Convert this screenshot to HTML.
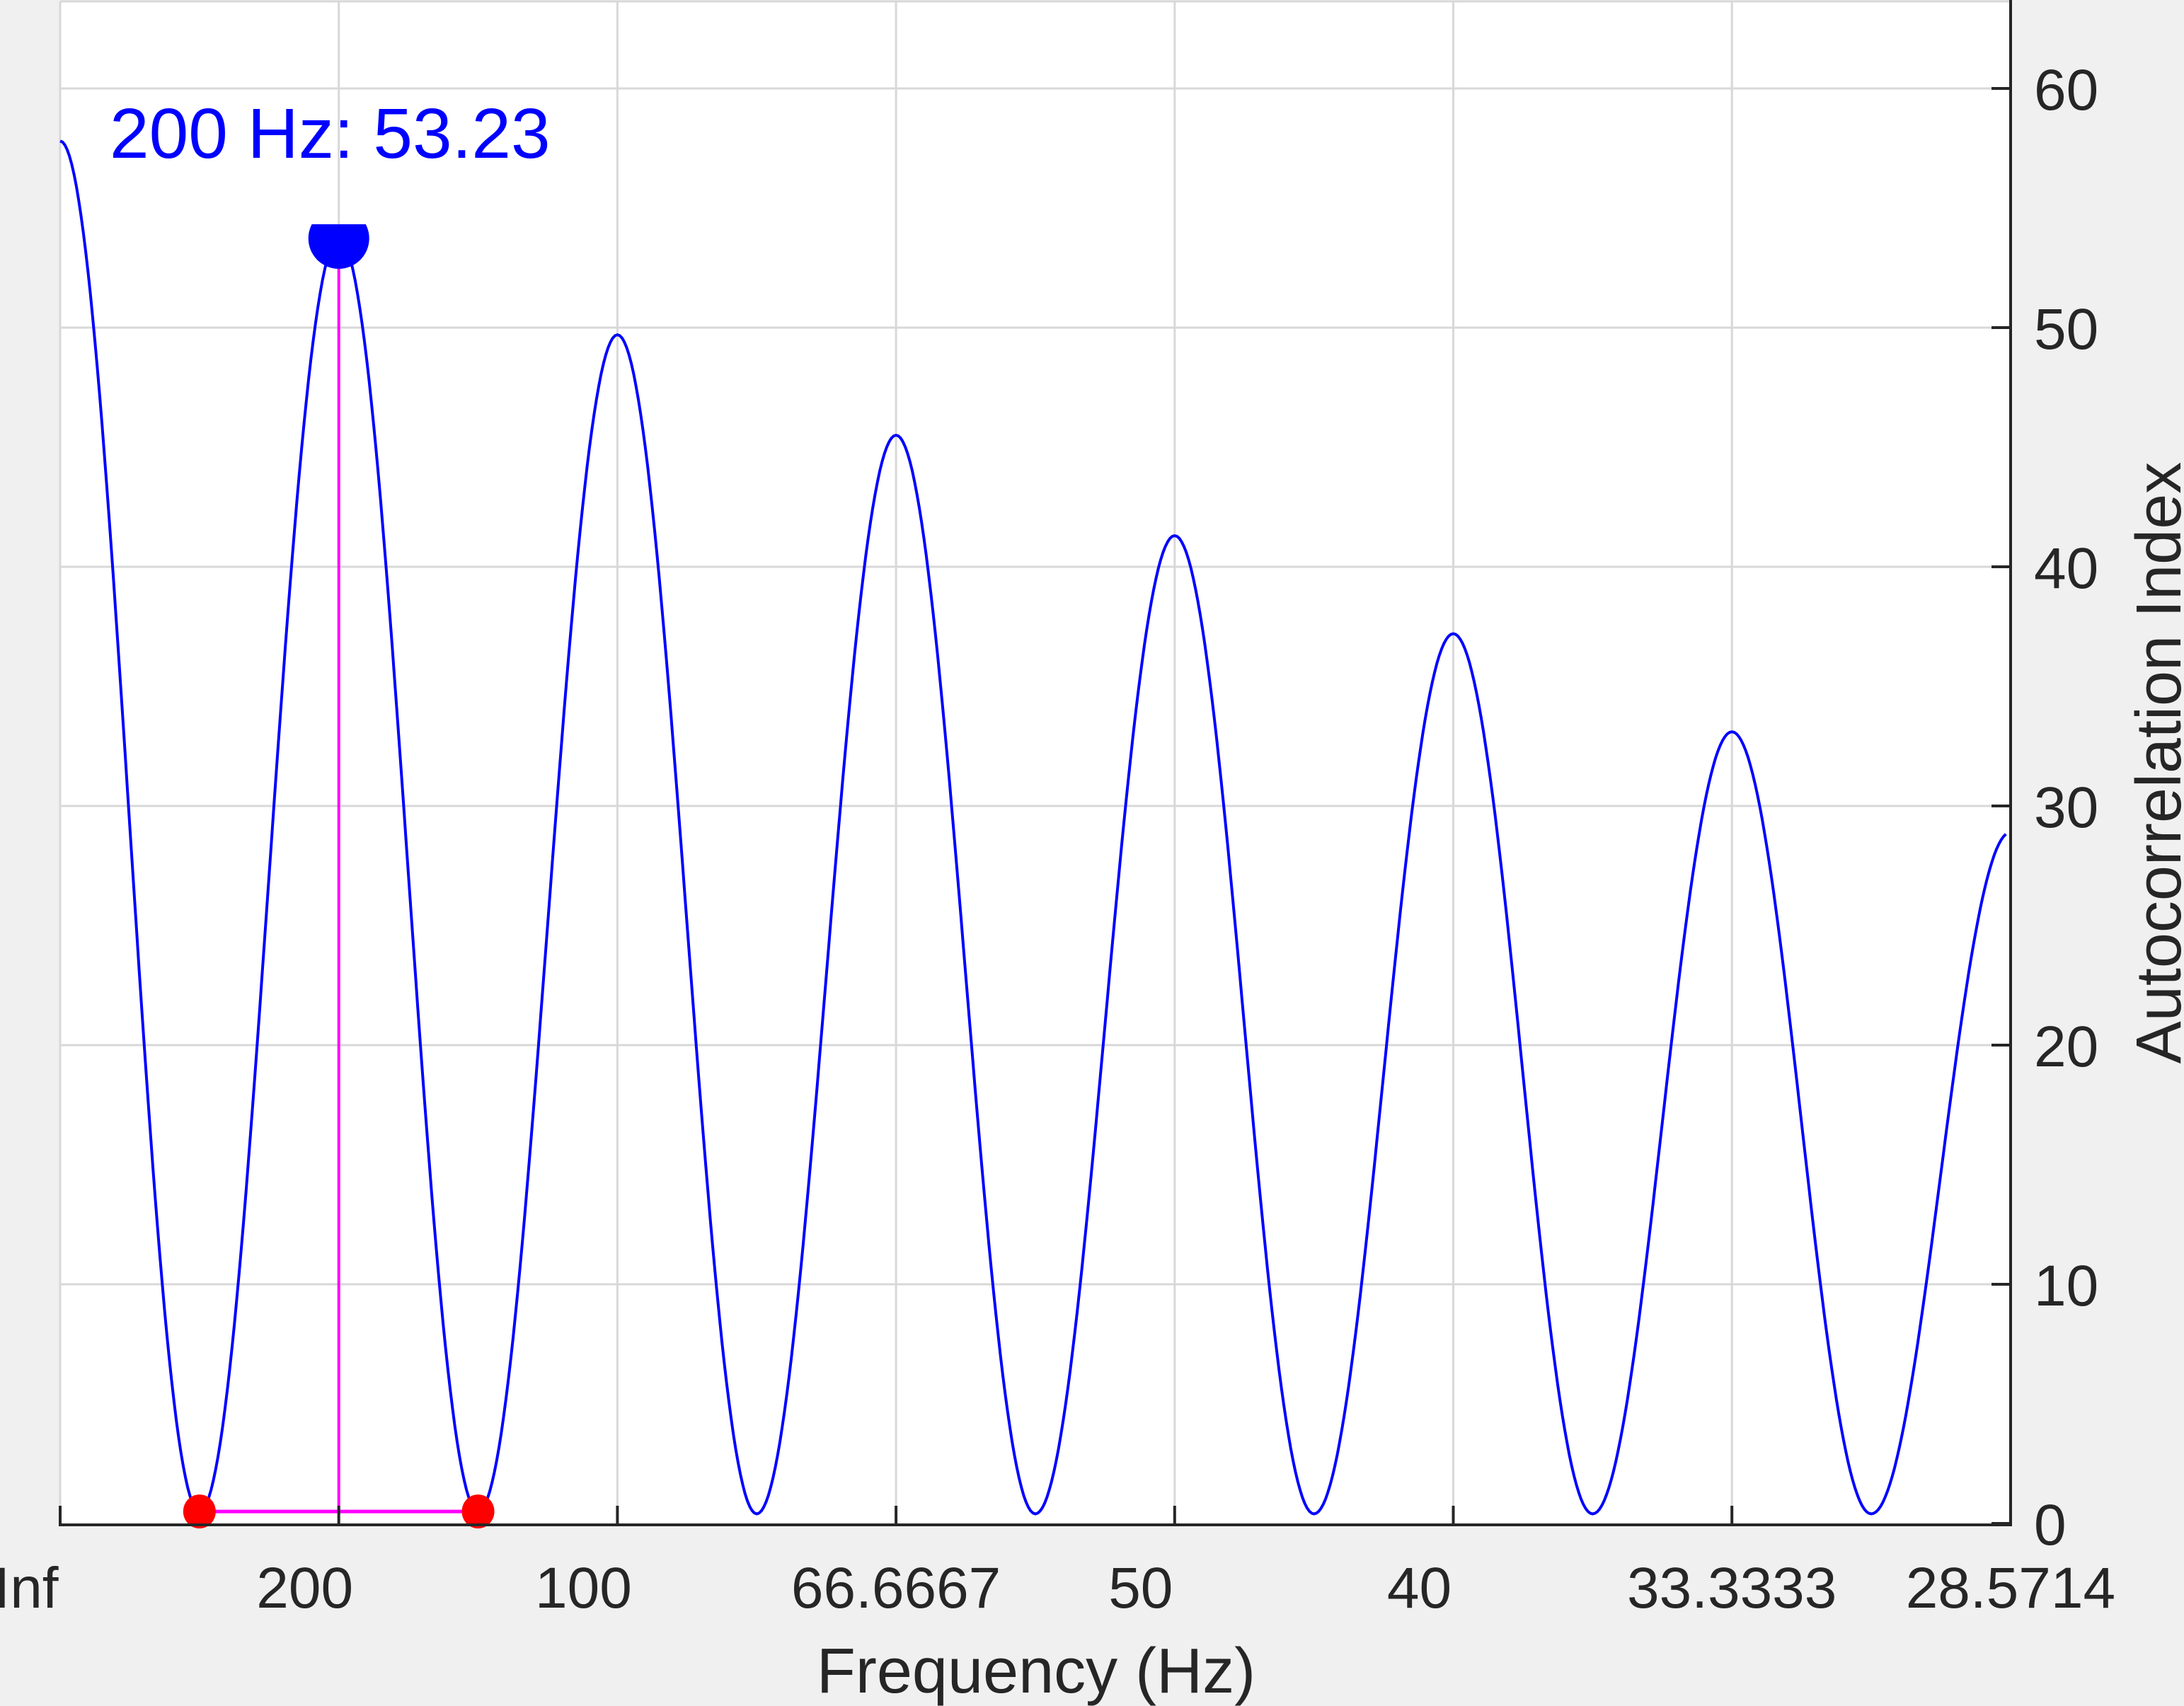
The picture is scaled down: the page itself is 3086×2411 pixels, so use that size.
<!DOCTYPE html>
<html><head><meta charset="utf-8"><style>
html,body{margin:0;padding:0;background:#f0f0f0;}
svg{display:block;font-family:"Liberation Sans",Arial,sans-serif;}
</style></head><body>
<svg id="chart" width="3086" height="2411" viewBox="0 0 3086 2411" xmlns="http://www.w3.org/2000/svg">
<rect x="0" y="0" width="3086" height="2411" fill="#f0f0f0"/>
<rect x="85" y="2" width="2756" height="2153" fill="#ffffff"/>
<g id="grid"></g>
<g id="series"></g>
<g id="axes"></g>
<text x="155" y="223" font-size="100" fill="#0000ff">200 Hz: 53.23</text>
<text x="1464" y="2392" font-size="90" fill="#262626" text-anchor="middle">Frequency (Hz)</text>
<text transform="translate(3081,1078) rotate(-90)" font-size="90" fill="#262626" text-anchor="middle">Autocorrelation Index</text>
</svg>
<script>
// data
const xTickLabels = ["Inf","200","100","66.6667","50","40","33.3333","28.5714"];
const yTicks = [0,10,20,30,40,50,60];
const peakValues = [57.8, 53.76, 49.7, 45.5, 41.3, 37.2, 33.1, 28.9];
const troughValues = [0.5, 0.5, 0.4, 0.4, 0.4, 0.4, 0.4];
const selectedPeakIndex = 1;
const troughMarkers = [0.5, 1.5];
const curveEnd = 6.99;

const NS = "http://www.w3.org/2000/svg";
const X0 = 85, X1 = 2841, Y0 = 2153, PX = 393.7, PY = 33.8;
const xs = v => X0 + v * PX;
const ys = v => Y0 - v * PY;
function mk(tag, attrs, parent){const e=document.createElementNS(NS,tag);for(const k in attrs)e.setAttribute(k,attrs[k]);parent.appendChild(e);return e;}
const grid = document.getElementById('grid'), axes = document.getElementById('axes'), series = document.getElementById('series');

// grid
xTickLabels.forEach((l,i)=>{ if(i===0||i===xTickLabels.length-1) return;
  const g = mk('line',{x1:xs(i),x2:xs(i),y1:2,y2:2155,stroke:'#d8d8d8','stroke-width':3},grid);
  
  
});
yTicks.forEach(v=>{ if(v===0) return;
  const g = mk('line',{x1:X0,x2:X1,y1:ys(v),y2:ys(v),stroke:'#d8d8d8','stroke-width':3},grid);
  
  
});
const lg = mk('line',{x1:X0,x2:X0,y1:2,y2:2155,stroke:'#d8d8d8','stroke-width':3},grid);


const tg = mk('line',{x1:X0,x2:X1,y1:2,y2:2,stroke:'#d8d8d8','stroke-width':3},grid);



// curve: extrema alternate peak/trough; raised-cosine between consecutive extrema
const ext = [];
peakValues.forEach((p,i)=>{ ext.push([i,p]); if(i<troughValues.length) ext.push([i+0.5,troughValues[i]]); });
let d = '';
for(let k=0;k<ext.length-1;k++){
  const [xa,ya]=ext[k],[xb,yb]=ext[k+1];
  for(let s=0;s<=60;s++){
    const t=s/60, x=xa+(xb-xa)*t;
    if(x>curveEnd) break;
    const y=ya+(yb-ya)*(1-Math.cos(Math.PI*t))/2;
    d += (d?'L':'M')+xs(x).toFixed(1)+','+ys(y).toFixed(1);
  }
}
const curve = mk('path',{d:d,fill:'none',stroke:'#0000ff','stroke-width':4},series);



// selected peak markers
const pk = peakValues[selectedPeakIndex], tY = ys(troughValues[0]);
const vline = mk('line',{x1:xs(selectedPeakIndex),x2:xs(selectedPeakIndex),y1:ys(pk),y2:tY,stroke:'#ff00ff','stroke-width':4},series);


const hline = mk('line',{x1:xs(troughMarkers[0]),x2:xs(troughMarkers[1]),y1:tY,y2:tY,stroke:'#ff00ff','stroke-width':5},series);


const clip = mk('clipPath',{id:'pkclip'},series);
mk('rect',{x:0,y:ys(pk)-19,width:3086,height:200},clip);
const pm = mk('circle',{cx:xs(selectedPeakIndex),cy:ys(pk)+1,r:43,fill:'#0000ff','clip-path':'url(#pkclip)'},series);


troughMarkers.forEach((x,i)=>{
  const c = mk('ellipse',{cx:xs(x),cy:ys(troughValues[i]),rx:23,ry:24,fill:'#ff0000'},series);
  
  
});

// axes
const bx = mk('line',{x1:X0-2,x2:X1+2,y1:2155,y2:2155,stroke:'#262626','stroke-width':4},axes);


const ry = mk('line',{x1:X1,x2:X1,y1:0,y2:2157,stroke:'#262626','stroke-width':4},axes);


xTickLabels.forEach((l,i)=>{
  const t = mk('line',{x1:xs(i),x2:xs(i),y1:2155,y2:2128,stroke:'#262626','stroke-width':4},axes);
  
  
  const shift = l.length<7 ? -48 : 0;
  const tx = mk('text',{x:xs(i)+shift,y:2272,'font-size':82,fill:'#262626','text-anchor':'middle'},axes);
  tx.textContent = l;
  
  
});
yTicks.forEach(v=>{
  const t = mk('line',{x1:X1,x2:X1-27,y1:ys(v),y2:ys(v),stroke:'#262626','stroke-width':4},axes);
  
  
  const tx = mk('text',{x:2874,y:ys(v)+30,'font-size':82,fill:'#262626'},axes);
  tx.textContent = String(v);
  
  
});
</script>
</body></html>
